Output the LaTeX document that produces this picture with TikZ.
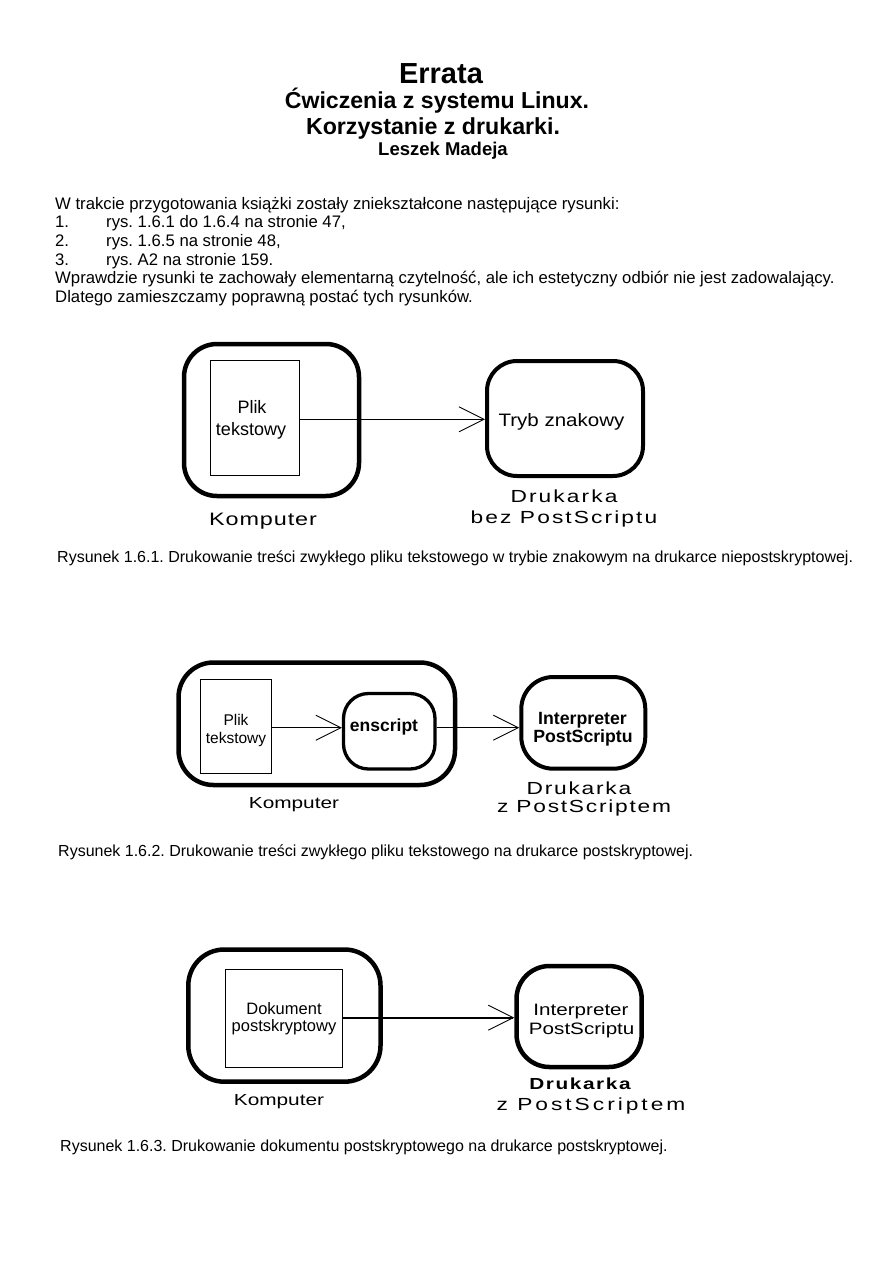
\documentclass[tikz,border=0pt]{standalone}
\usepackage{fontspec}
\setmainfont{Liberation Sans}
\newfontfamily\widefont[FakeStretch=1.3]{Liberation Sans}
\newfontfamily\midfont[FakeStretch=1.25]{Liberation Sans}
\newfontfamily\trybfont[FakeStretch=1.14]{Liberation Sans}
\usetikzlibrary{arrows.meta}
\newcommand\fsz[1]{\fontsize{#1}{#1}\selectfont}
\newcommand\lsp[1]{\addfontfeature{LetterSpace=#1}}
\frenchspacing
\begin{document}
\begin{tikzpicture}[x=1pt,y=-1pt,
  txt/.style={inner sep=0pt, anchor=base},
  txtl/.style={inner sep=0pt, anchor=base west},
  rbox/.style={draw, line width=4.5pt, rounded corners=#1, inner sep=0pt},
  rbox/.default=33pt,
  doc/.style={draw, line width=1pt, inner sep=0pt},
  arr/.style={line width=1pt, -{Straight Barb[length=25pt,width=25pt,line width=0.9pt]}},
  body/.style={txtl, font=\fsz{16.7}},
  captxt/.style={txtl, font=\fsz{16}}]
\useasboundingbox[fill=white] (0,0) rectangle (894,1263);

% ---------- header ----------
\node[txt, font=\fsz{29}\bfseries] (t1) at (441,83) {Errata};
\node[txt, font=\fsz{23.1}\bfseries] (t2) at (437,108.5) {Ćwiczenia z systemu Linux.};
\node[txt, font=\fsz{23.2}\bfseries] (t3) at (433,134.5) {Korzystanie z drukarki.};
\node[txt, font=\fsz{18.5}\bfseries] (t4) at (443,155.5) {Leszek Madeja};

\node[body] (b1) at (55,209) {W trakcie przygotowania książki zostały zniekształcone następujące rysunki:};
\node[body] (n1) at (55,227.7) {1.};
\node[body] (l1) at (106,227.7) {rys. 1.6.1 do 1.6.4 na stronie 47,};
\node[body] (n2) at (55,246.4) {2.};
\node[body] (l2) at (106,246.4) {rys. 1.6.5 na stronie 48,};
\node[body] (n3) at (55,265.1) {3.};
\node[body] (l3) at (106,265.1) {rys. A2 na stronie 159.};
\node[body] (b2) at (55,283.8) {Wprawdzie rysunki te zachowały elementarną czytelność, ale ich estetyczny odbiór nie jest zadowalający.};
\node[body] (b3) at (55,302.5) {Dlatego zamieszczamy poprawną postać tych rysunków.};

% ---------- figure 1.6.1 ----------
\node[rbox=33pt, minimum width=175pt, minimum height=152pt] (komp1) at (271.5,420) {};
\node[doc, minimum width=88.3pt, minimum height=115.7pt] (plik1) at (254.9,417.9) {};
\node[txt, font=\fsz{18}] (plik1a) at (252,413.3) {Plik};
\node[txt, font=\fsz{18}] (plik1b) at (251,435) {tekstowy};
\node[rbox=30pt, line width=4pt, minimum width=156pt, minimum height=115pt] (tryb) at (565,418.5) {};
\node[txt, font=\trybfont\fsz{18}] (tryba) at (561.5,426.7) {Tryb znakowy};
\coordinate (a1) at (0,419.3);
\draw[arr] (plik1.east |- a1) -- (tryb.west |- a1);
\node[txt, font=\widefont\fsz{17.5}\lsp{12}] (druk1a) at (564,502.5) {Drukarka};
\node[txt, font=\widefont\fsz{17.5}\lsp{12}] (druk1b) at (564,523.5) {bez PostScriptu};
\node[txt, font=\widefont\fsz{18}\lsp{5}] (kompl1) at (263,525) {Komputer};
\node[captxt] (c1) at (57,562) {Rysunek 1.6.1. Drukowanie treści zwykłego pliku tekstowego w trybie znakowym na drukarce niepostskryptowej.};

% ---------- figure 1.6.2 ----------
\node[rbox=35pt, minimum width=276.5pt, minimum height=122.5pt] (komp2) at (316.75,723.75) {};
\node[doc, minimum width=71.7pt, minimum height=94pt] (plik2) at (235.85,726.3) {};
\node[txt, font=\fsz{15.5}] (plik2a) at (236,725) {Plik};
\node[txt, font=\fsz{15.5}] (plik2b) at (236,743) {tekstowy};
\node[rbox=25pt, line width=3.3pt, minimum width=91.5pt, minimum height=75.5pt] (ensc) at (389.25,731.25) {};
\node[txt, font=\fsz{17.5}\bfseries] (ensca) at (384,731.7) {enscript};
\node[rbox=32pt, line width=4pt, minimum width=124pt, minimum height=91.7pt] (interp2) at (583.3,722.85) {};
\node[txt, font=\fsz{17.7}\bfseries] (interp2a) at (582.5,724) {Interpreter};
\node[txt, font=\fsz{17.7}\bfseries] (interp2b) at (583,742.7) {PostScriptu};
\coordinate (a2) at (0,727.7);
\draw[arr] (plik2.east |- a2) -- (ensc.west |- a2);
\draw[arr] (ensc.east |- a2) -- (interp2.west |- a2);
\node[txt, font=\widefont\fsz{17.5}\lsp{10}] (druk2a) at (579,794) {Drukarka};
\node[txt, font=\widefont\fsz{17.5}\lsp{10}] (druk2b) at (584,812.7) {z PostScriptem};
\node[txt, font=\widefont\fsz{16}] (kompl2) at (294,808.3) {Komputer};
\node[captxt] (c2) at (58,856) {Rysunek 1.6.2. Drukowanie treści zwykłego pliku tekstowego na drukarce postskryptowej.};

% ---------- figure 1.6.3 ----------
\node[rbox=36pt, minimum width=192.2pt, minimum height=132.2pt] (komp3) at (284.4,1015.6) {};
\node[doc, minimum width=117.3pt, minimum height=98pt] (dok) at (283.65,1018.3) {};
\node[txt, font=\fsz{16.5}] (doka) at (284,1014) {Dokument};
\node[txt, font=\fsz{16.5}] (dokb) at (284,1031.7) {postskryptowy};
\node[rbox=33pt, minimum width=125.2pt, minimum height=101pt] (interp3) at (579.1,1016.5) {};
\node[txt, font=\midfont\fsz{16.5}] (interp3a) at (581,1015) {Interpreter};
\node[txt, font=\midfont\fsz{16.5}] (interp3b) at (581.7,1034) {PostScriptu};
\coordinate (a3) at (0,1017.7);
\draw[arr, line width=2pt] (dok.east |- a3) -- (interp3.west |- a3);
\node[txt, font=\widefont\fsz{16}\bfseries\lsp{10}] (druk3a) at (580,1089.3) {Drukarka};
\node[txt, font=\widefont\fsz{17.5}\lsp{17}] (druk3b) at (591,1110) {z PostScriptem};
\node[txt, font=\widefont\fsz{16}] (kompl3) at (279,1105.7) {Komputer};
\node[captxt] (c3) at (60,1151.5) {Rysunek 1.6.3. Drukowanie dokumentu postskryptowego na drukarce postskryptowej.};
\end{tikzpicture}
\end{document}
